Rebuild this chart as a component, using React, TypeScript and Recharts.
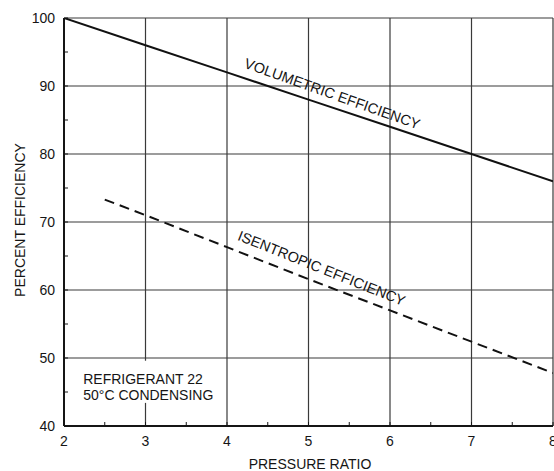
import { CartesianGrid, Line, LineChart, ReferenceArea, ReferenceDot, XAxis, YAxis } from "recharts";

const pressureRatio = [2, 3, 4, 5, 6, 7, 8];
const volumetricEff = [100, 96, 92, 88, 84, 80, 76];

const isentropicRatio = [2.5, 3, 4, 5, 6, 7, 8];
const isentropicEff = [73.3, 71.0, 66.3, 61.6, 57.0, 52.4, 47.8];

const xTicks = [2, 2.5, 3, 3.5, 4, 4.5, 5, 5.5, 6, 6.5, 7, 7.5, 8];
const yTicks = [40, 45, 50, 55, 60, 65, 70, 75, 80, 85, 90, 95, 100];
const xGrid = [3, 4, 5, 6, 7, 8];
const yGrid = [50, 60, 70, 80, 90, 100];

const noteLines = ["REFRIGERANT 22", "50°C CONDENSING"];

const FONT = "'Liberation Sans', Arial, sans-serif";
const INK = "#151515";
const GRID = "#3a3a3a";

const volumetricData = pressureRatio.map((x, i) => ({ x, y: volumetricEff[i] }));
const isentropicData = isentropicRatio.map((x, i) => ({ x, y: isentropicEff[i] }));

function curveLabel(text: string, angle: number) {
  return (props: any) => {
    const { cx, cy } = props;
    return (
      <text
        x={cx}
        y={cy}
        fill={INK}
        fontFamily={FONT}
        fontSize={14.5}
        transform={`rotate(${angle}, ${cx}, ${cy})`}
      >
        {text}
      </text>
    );
  };
}

// white box with the refrigerant note, drawn over the grid
function NoteBox(props: any) {
  const { x, y, width, height } = props;
  return (
    <g>
      <rect x={x} y={y} width={width} height={height} fill="#fff" />
      {noteLines.map((line, i) => (
        <text key={line} x={x + 7} y={y + 23 + i * 16} fill={INK} fontFamily={FONT} fontSize={14}>
          {line}
        </text>
      ))}
    </g>
  );
}

export default function App() {
  const tickStyle = { fill: INK, fontSize: 14, fontFamily: FONT };
  return (
    <div style={{ position: "absolute", left: 0, top: 0, background: "#fff" }}>
      <LineChart width={554} height={471} margin={{ top: 18, right: 1, left: 0, bottom: 0 }}>
        <CartesianGrid
          stroke={GRID}
          strokeWidth={1.2}
          verticalValues={xGrid}
          horizontalValues={yGrid}
        />
        <XAxis
          type="number"
          dataKey="x"
          domain={[2, 8]}
          ticks={xTicks}
          allowDataOverflow
          height={45}
          axisLine={{ stroke: INK, strokeWidth: 2 }}
          tickLine={{ stroke: INK, strokeWidth: 1 }}
          tickSize={-4}
          tickMargin={14}
          tick={tickStyle}
          tickFormatter={(v: number) => (Number.isInteger(v) ? String(v) : "")}
          interval={0}
        />
        <YAxis
          type="number"
          dataKey="y"
          domain={[40, 100]}
          ticks={yTicks}
          allowDataOverflow
          width={64}
          axisLine={{ stroke: INK, strokeWidth: 2 }}
          tickLine={{ stroke: INK, strokeWidth: 1 }}
          tickSize={-4}
          tickMargin={13}
          tick={tickStyle}
          tickFormatter={(v: number) => (v % 10 === 0 ? String(v) : "")}
          interval={0}
        />
        <ReferenceArea x1={2.15} x2={3.85} y1={43.4} y2={49.6} shape={NoteBox} />
        <Line
          data={volumetricData}
          dataKey="y"
          type="linear"
          stroke="#111"
          strokeWidth={2}
          dot={false}
          activeDot={false}
          isAnimationActive={false}
        />
        <Line
          data={isentropicData}
          dataKey="y"
          type="linear"
          stroke="#111"
          strokeWidth={2}
          strokeDasharray="10 6"
          dot={false}
          activeDot={false}
          isAnimationActive={false}
        />
        <ReferenceDot x={4.2} y={92.7} r={0} shape={curveLabel("VOLUMETRIC EFFICIENCY", 19.5)} />
        <ReferenceDot x={4.12} y={67.4} r={0} shape={curveLabel("ISENTROPIC EFFICIENCY", 21.8)} />
        <text x={310} y={469} fill={INK} fontFamily={FONT} fontSize={14} textAnchor="middle">
          PRESSURE RATIO
        </text>
        <text
          x={25}
          y={220}
          fill={INK}
          fontFamily={FONT}
          fontSize={14}
          textAnchor="middle"
          transform="rotate(-90, 25, 220)"
        >
          PERCENT EFFICIENCY
        </text>
      </LineChart>
    </div>
  );
}
